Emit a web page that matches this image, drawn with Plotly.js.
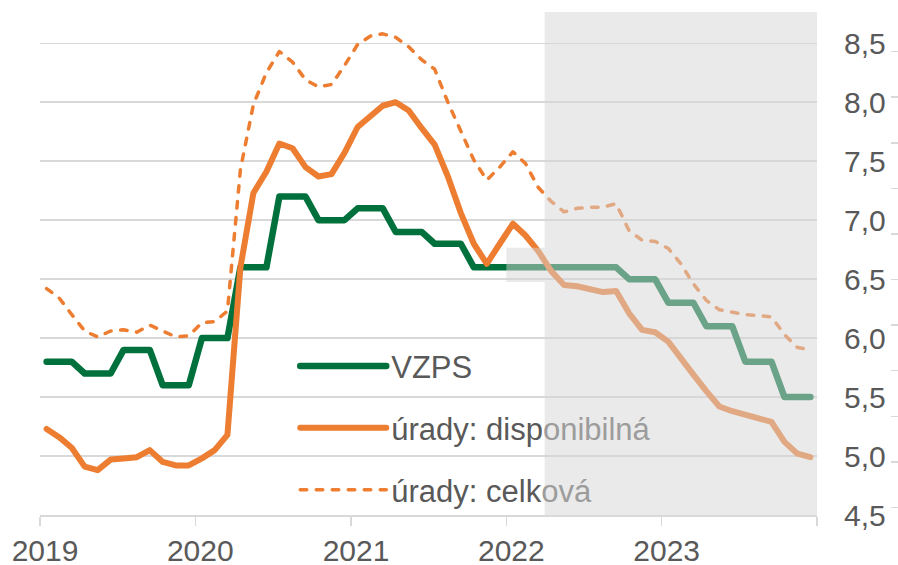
<!DOCTYPE html>
<html>
<head>
<meta charset="utf-8">
<script src="https://cdn.plot.ly/plotly-3.0.1.min.js"></script>
<style>
  html, body { margin: 0; padding: 0; background: #fff; }
  #chart { width: 898px; height: 565px; }
  .js-line { stroke-linejoin: round; stroke-linecap: round; }
</style>
</head>
<body>
<div id="chart"></div>
<script>
// Months Jan 2019 – Dec 2023
const months = [];
for (let y = 2019; y <= 2023; y++) for (let m = 1; m <= 12; m++) months.push(y + '-' + String(m).padStart(2, '0') + '-01');

const vzps = [5.8,5.8,5.8,5.7,5.7,5.7,5.9,5.9,5.9,5.6,5.6,5.6,
  6.0,6.0,6.0,6.6,6.6,6.6,7.2,7.2,7.2,7.0,7.0,7.0,
  7.1,7.1,7.1,6.9,6.9,6.9,6.8,6.8,6.8,6.6,6.6,6.6,
  6.6,6.6,6.6,6.6,6.6,6.6,6.6,6.6,6.6,6.5,6.5,6.5,
  6.3,6.3,6.3,6.1,6.1,6.1,5.8,5.8,5.8,5.5,5.5,5.5];

const disponibilna = [5.23,5.16,5.07,4.91,4.88,4.97,4.98,4.99,5.05,4.95,4.92,4.92,
  4.98,5.05,5.18,6.6,7.23,7.41,7.65,7.61,7.45,7.37,7.39,7.57,
  7.79,7.88,7.97,8.0,7.93,7.78,7.64,7.37,7.06,6.8,6.63,6.8,
  6.97,6.87,6.74,6.57,6.45,6.44,6.42,6.39,6.4,6.21,6.07,6.05,
  5.97,5.84,5.69,5.55,5.42,5.38,5.35,5.31,5.29,5.12,5.02,4.99];

const celkova = [6.42,6.34,6.2,6.06,6.01,6.06,6.07,6.05,6.11,6.06,6.01,6.02,
  6.13,6.14,6.23,7.43,7.98,8.25,8.43,8.34,8.19,8.13,8.15,8.31,
  8.49,8.56,8.58,8.55,8.47,8.36,8.28,8.0,7.75,7.51,7.34,7.45,
  7.58,7.48,7.28,7.16,7.07,7.1,7.11,7.11,7.14,6.91,6.83,6.82,
  6.76,6.63,6.46,6.32,6.24,6.22,6.2,6.19,6.18,6.03,5.92,5.9];

const seriesNames = ['VZPS',
  'úrady: disp<span style="color:#9c9c9c">onibilná</span>',
  'úrady: celk<span style="color:#9c9c9c">ová</span>'];

const yearTicks = ['2019-01-01','2020-01-01','2021-01-01','2022-01-01','2023-01-01','2024-01-01'];
const yearLabels = ['2019','2020','2021','2022','2023',''];
const yTicks = [4.5,5.0,5.5,6.0,6.5,7.0,7.5,8.0,8.5];
const sideTicks = [0,1,2,3,4,5,6,7,8,9,10,11,12];

const GREEN = '#00703c';
const ORANGE = '#ed7d31';
const GRID = '#d9d9d9';
const TXT = '#595959';
const FONT = 'Liberation Sans, Arial, sans-serif';

const common = { x: months, xperiod: 'M1', xperiodalignment: 'middle', mode: 'lines', hoverinfo: 'skip' };

const traces = [
  Object.assign({}, common, { y: vzps, name: seriesNames[0], legendgroup: 'a',
    line: { color: GREEN, width: 6.5 } }),
  Object.assign({}, common, { y: disponibilna, name: seriesNames[1], legendgroup: 'b',
    line: { color: ORANGE, width: 6 } }),
  Object.assign({}, common, { y: celkova, name: seriesNames[2], legendgroup: 'c',
    line: { color: ORANGE, width: 3.5, dash: '6.5px,9.5px' } }),
  { x: [], y: [], xaxis: 'x2', yaxis: 'y2', showlegend: false, hoverinfo: 'skip', mode: 'lines' }
];

const layout = {
  width: 898, height: 565,
  margin: { l: 40, r: 0, t: 6, b: 12 },
  paper_bgcolor: '#fff', plot_bgcolor: 'rgba(0,0,0,0)',
  separators: ', ',
  font: { family: FONT, color: TXT, size: 30 },
  showlegend: true,
  legend: {
    x: 0.2975, y: 0.3905, xanchor: 'left', yanchor: 'top',
    bgcolor: 'rgba(0,0,0,0)', borderwidth: 0,
    font: { family: FONT, size: 31, color: TXT },
    traceorder: 'grouped', tracegroupgap: 18.5, itemwidth: 86
  },
  xaxis: {
    type: 'date', domain: [0, 777/858], anchor: 'y',
    range: ['2019-01-01', '2024-01-01'],
    tickmode: 'array', tickvals: yearTicks, ticktext: yearLabels,
    ticks: 'outside', ticklen: 9, tickwidth: 1.5, tickcolor: GRID,
    showline: true, linecolor: GRID, linewidth: 1.5,
    showgrid: false, zeroline: false,
    tickfont: { family: FONT, size: 30, color: TXT },
    ticklabelshift: 5, ticklabelstandoff: -1, fixedrange: true
  },
  yaxis: {
    domain: [38/547, 541/547], anchor: 'x', side: 'right',
    range: [4.5, 8.765],
    tickmode: 'array', tickvals: yTicks, tickformat: '.1f',
    ticks: '', showline: false, zeroline: false,
    showgrid: true, gridcolor: GRID, gridwidth: 1.5,
    tickfont: { family: FONT, size: 30, color: TXT },
    ticklabelstandoff: 26, fixedrange: true
  },
  xaxis2: { domain: [0, 1], anchor: 'y2', range: [0, 1], visible: false, fixedrange: true },
  yaxis2: {
    domain: [0, 1], anchor: 'x2', side: 'right', range: [0, 12],
    tickmode: 'array', tickvals: sideTicks,
    ticks: 'inside', ticklen: 7, tickwidth: 1.5, tickcolor: GRID,
    showticklabels: false, showgrid: false, zeroline: false, showline: false, fixedrange: true
  },
  shapes: [
    { type: 'rect', xref: 'x', yref: 'y', x0: '2022-04-01', x1: '2024-01-01', y0: 4.5, y1: 8.765,
      fillcolor: 'rgb(214,214,214)', opacity: 0.5, line: { width: 0 }, layer: 'above' },
    { type: 'rect', xref: 'x', yref: 'y', x0: '2022-01-01', x1: '2022-04-01', y0: 6.475, y1: 6.765,
      fillcolor: 'rgb(214,214,214)', opacity: 0.5, line: { width: 0 }, layer: 'above' }
  ]
};

Plotly.newPlot('chart', traces, layout, { displayModeBar: false, staticPlot: true });
</script>
</body>
</html>
